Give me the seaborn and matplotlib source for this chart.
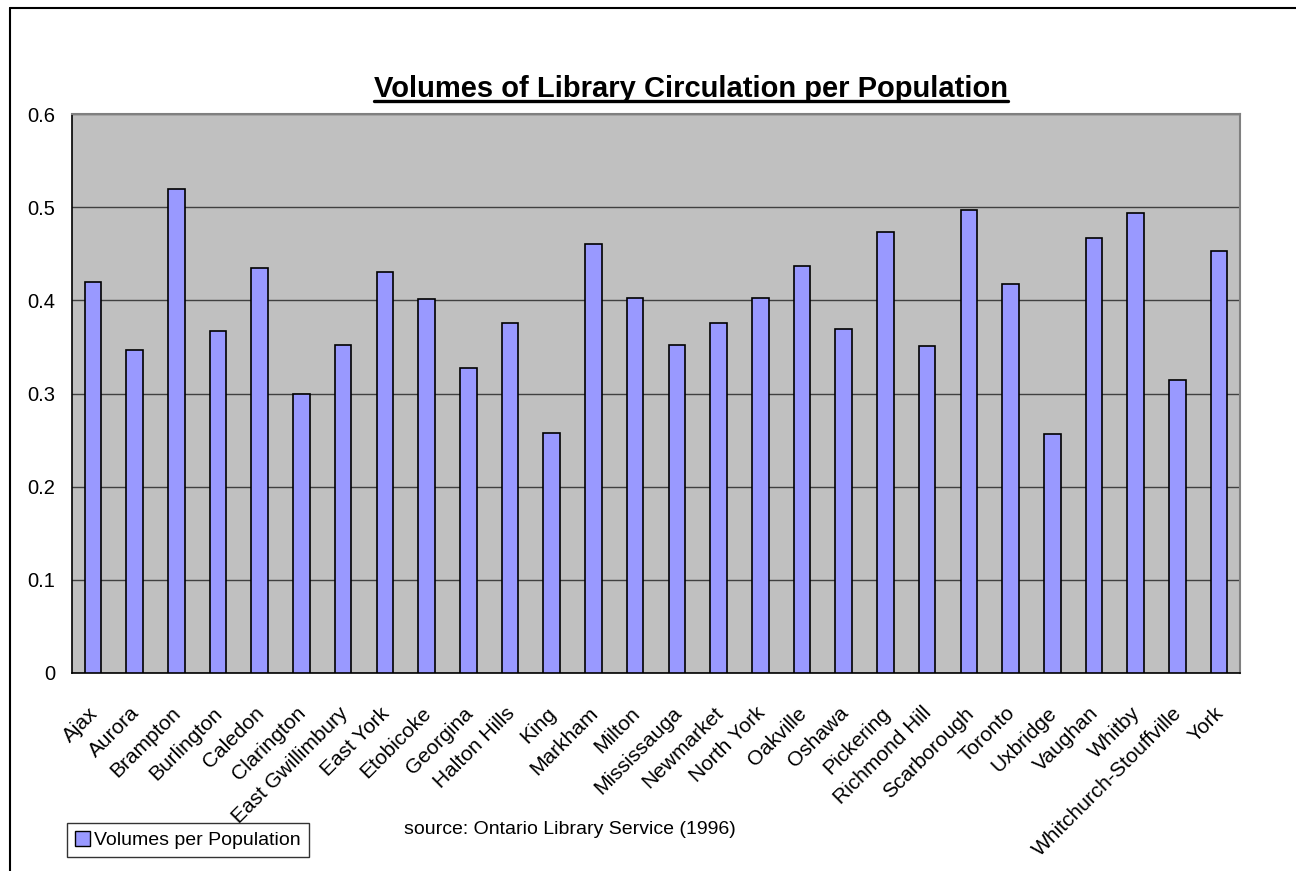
import numpy as np
import pandas as pd
import matplotlib
matplotlib.use('Agg')
import matplotlib.pyplot as plt
import seaborn as sns
from matplotlib.ticker import FuncFormatter, FixedLocator
from matplotlib.lines import Line2D
from matplotlib.patches import Patch
from matplotlib.transforms import ScaledTranslation

# library circulation per population
towns = ['Ajax', 'Aurora', 'Brampton', 'Burlington', 'Caledon', 'Clarington',
         'East Gwillimbury', 'East York', 'Etobicoke', 'Georgina', 'Halton Hills',
         'King', 'Markham', 'Milton', 'Mississauga', 'Newmarket', 'North York',
         'Oakville', 'Oshawa', 'Pickering', 'Richmond Hill', 'Scarborough',
         'Toronto', 'Uxbridge', 'Vaughan', 'Whitby', 'Whitchurch-Stouffville', 'York']
volumes = [0.420, 0.347, 0.519, 0.367, 0.435, 0.300,
           0.352, 0.430, 0.401, 0.327, 0.376,
           0.258, 0.460, 0.403, 0.352, 0.376, 0.403,
           0.437, 0.369, 0.473, 0.351, 0.497,
           0.418, 0.256, 0.467, 0.494, 0.315, 0.453]
y_ticks = [0, 0.1, 0.2, 0.3, 0.4, 0.5, 0.6]

df = pd.DataFrame({'town': towns, 'volumes': volumes})

sns.set_style('white')
plt.rcParams['font.family'] = ['Liberation Sans', 'DejaVu Sans']
plt.rcParams['text.color'] = 'black'
plt.rcParams['xtick.color'] = 'black'
plt.rcParams['ytick.color'] = 'black'
plt.rcParams['xtick.labelcolor'] = 'black'
plt.rcParams['ytick.labelcolor'] = 'black'

fig = plt.figure(figsize=(12.96, 8.71), dpi=100)
ax = fig.add_axes([72/1296, 1-673/871, (1240-72)/1296, (673-114)/871])
ax.set_facecolor('#C0C0C0')

sns.barplot(data=df, x='town', y='volumes', color='#9999FF', saturation=1,
            edgecolor='black', linewidth=1.2, width=0.4, ax=ax, zorder=3)

ax.set_xlim(-0.5, len(towns) - 0.5)
ax.set_ylim(0, 0.6)
ax.yaxis.set_major_locator(FixedLocator(y_ticks))
ax.yaxis.set_major_formatter(FuncFormatter(lambda v, p: '%g' % v))
ax.grid(axis='y', color='#404040', linewidth=1, zorder=1)
ax.set_axisbelow(True)
ax.set_xlabel('')
ax.set_ylabel('')

# ticks between categories, labels centred under bars
ax.set_xticks(np.arange(len(towns)))
ax.set_xticklabels(towns, rotation=45, ha='right', va='top', rotation_mode='anchor', fontsize=15)
ax.set_xticks(np.arange(len(towns) + 1) - 0.5, minor=True)
ax.tick_params(axis='x', which='major', length=0, pad=22)
ax.tick_params(axis='x', which='minor', length=6, width=1, color='black', direction='out')
ax.tick_params(axis='y', length=6, width=1, color='black', direction='out', labelsize=14.5, pad=6)
for lab in ax.get_xticklabels():
    lab.set_transform(lab.get_transform() + ScaledTranslation(-5/100, 0, fig.dpi_scale_trans))

for s in ['left', 'bottom']:
    ax.spines[s].set_color('black')
    ax.spines[s].set_linewidth(1.2)
for s in ['top', 'right']:
    ax.spines[s].set_color('#808080')
    ax.spines[s].set_linewidth(1.5)

# title with underline
title = fig.text(691/1296, 1-89/871, 'Volumes of Library Circulation per Population',
                 ha='center', va='center', fontsize=21, fontweight='bold', color='black')
fig.canvas.draw()
bb = title.get_window_extent().transformed(fig.transFigure.inverted())
fig.add_artist(Line2D([bb.x0, bb.x1], [bb.y0 + 0.002, bb.y0 + 0.002],
                      transform=fig.transFigure, color='black', linewidth=2.4))

fig.text(570/1296, 1-829/871, 'source: Ontario Library Service (1996)',
         ha='center', va='center', fontsize=14, color='black')

leg = fig.legend(handles=[Patch(facecolor='#9999FF', edgecolor='black', label='Volumes per Population')],
                 loc='lower left', bbox_to_anchor=(67/1296, 1-857/871), fontsize=14,
                 frameon=True, fancybox=False, handlelength=0.8, handleheight=0.8,
                 handletextpad=0.2, borderpad=0.4, borderaxespad=0, labelcolor='black')
leg.get_frame().set_edgecolor('black')
leg.get_frame().set_linewidth(1)

# outer chart border (cropped at right and bottom)
fig.add_artist(Line2D([10/1296, 10/1296], [0, 1-8/871], transform=fig.transFigure,
                      color='black', linewidth=1.5))
fig.add_artist(Line2D([10/1296, 1], [1-8/871, 1-8/871], transform=fig.transFigure,
                      color='black', linewidth=1.5))

fig.savefig('out.png', dpi=100)
